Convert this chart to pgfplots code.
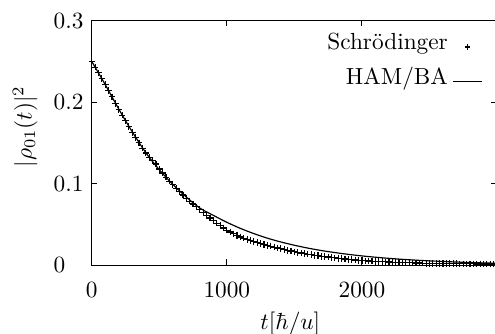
\documentclass[border=0pt]{standalone}
\usepackage{pgfplots}
\pgfplotsset{compat=1.18}
\pgfplotsset{
  markimg/.style={legend image code/.code={\path[draw=none,fill=none] (0pt,-1.8pt) (12.4pt,-1.8pt); \draw[mark repeat=2,mark phase=2,##1,mark size=1.1pt] plot coordinates {(0pt,-1.8pt) (6.2pt,-1.8pt) (12.4pt,-1.8pt)};}},
  lineimg/.style={legend image code/.code={\draw[##1] (0pt,-1.8pt) -- (12.4pt,-1.8pt);}},
}
\begin{document}
\begin{tikzpicture}
\begin{axis}[
  scale only axis,
  width=174pt, height=104.9pt,
  xmin=0, xmax=3000, ymin=0, ymax=0.3,
  xtick={0,1000,2000}, ytick={0,0.1,0.2,0.3},
  yticklabels={0,0.1,0.2,0.3},
  /pgf/number format/set thousands separator={},
  tick align=inside, major tick length=2.4pt,
  axis line style={line width=0.4pt},
  tick style={line width=0.4pt, black},
  yticklabel style={anchor=west, xshift=-19.9pt},
  xticklabel style={yshift=-4pt},
  xlabel={$t[\hbar/u]$},
  ylabel={$|\rho_{01}(t)|^2$},
  xlabel style={at={([yshift=-25pt]axis description cs:0.49,0)}, anchor=center},
  ylabel style={at={([xshift=-28.6pt]axis description cs:0,0.567)}, anchor=center},
  legend plot pos=right,
  legend cell align=right,
  legend style={at={(rel axis cs:1,1)}, anchor=north east, xshift=-3pt, yshift=-1pt,
    draw=none, fill=none, row sep=2pt},
]
\addplot[only marks, mark=+, mark size=1.4pt, mark options={line width=0.5pt, black}, markimg]
coordinates {
(0,0.2500) (25,0.2430) (50,0.2360) (75,0.2290) (100,0.2220) (125,0.2140) (150,0.2065) (175,0.1985)
(200,0.1910) (225,0.1840) (250,0.1770) (275,0.1700) (300,0.1630) (325,0.1565) (350,0.1500) (375,0.1435)
(400,0.1375) (425,0.1325) (450,0.1285) (475,0.1240) (500,0.1180) (525,0.1130) (550,0.1080) (575,0.1030)
(600,0.0985) (625,0.0940) (650,0.0900) (675,0.0860) (700,0.0820) (725,0.0785) (750,0.0750) (775,0.0715)
(800,0.0680) (825,0.0645) (850,0.0610) (875,0.0578) (900,0.0545) (925,0.0515) (950,0.0485) (975,0.0455)
(1000,0.0428) (1025,0.0405) (1050,0.0383) (1075,0.0363) (1100,0.0345) (1125,0.0330) (1150,0.0315) (1175,0.0300)
(1200,0.0287) (1225,0.0275) (1250,0.0263) (1275,0.0252) (1300,0.0241) (1325,0.0231) (1350,0.0220) (1375,0.0210)
(1400,0.0200) (1425,0.0190) (1450,0.0181) (1475,0.0172) (1500,0.0163) (1525,0.0156) (1550,0.0148) (1575,0.0140)
(1600,0.0133) (1625,0.0127) (1650,0.0120) (1675,0.0114) (1700,0.0108) (1725,0.0103) (1750,0.0098) (1775,0.0093)
(1800,0.0088) (1825,0.0083) (1850,0.0079) (1875,0.0074) (1900,0.0070) (1925,0.0066) (1950,0.0062) (1975,0.0058)
(2000,0.0055) (2025,0.0052) (2050,0.0050) (2075,0.0047) (2100,0.0045) (2125,0.0043) (2150,0.0041) (2175,0.0039)
(2200,0.0037) (2225,0.0036) (2250,0.0034) (2275,0.0033) (2300,0.0031) (2325,0.0030) (2350,0.0028) (2375,0.0027)
(2400,0.0025) (2425,0.0024) (2450,0.0023) (2475,0.0022) (2500,0.0021) (2525,0.0020) (2550,0.0019) (2575,0.0019)
(2600,0.0018) (2625,0.0017) (2650,0.0017) (2675,0.0016) (2700,0.0016) (2725,0.0015) (2750,0.0015) (2775,0.0014)
(2800,0.0014) (2825,0.0014) (2850,0.0013) (2875,0.0013) (2900,0.0012) (2925,0.0012) (2950,0.0012) (2975,0.0011)
(3000,0.0011)
};
\addlegendentry{Schr\"odinger}
\addplot[black, line width=0.5pt, smooth, mark=none, lineimg]
coordinates {
(0,0.250) (100,0.2215) (200,0.1915) (300,0.1635) (400,0.138) (500,0.1170) (600,0.0990)
(700,0.0835) (800,0.0700) (900,0.0610) (1000,0.0525) (1100,0.0450) (1200,0.0386) (1300,0.0330)
(1400,0.0283) (1500,0.0243) (1600,0.0208) (1700,0.0178) (1800,0.0153) (1900,0.0131) (2000,0.0112)
(2100,0.0096) (2200,0.0082) (2300,0.0070) (2400,0.0060) (2500,0.0051) (2600,0.0044) (2700,0.0037)
(2800,0.0031) (2900,0.0026) (3000,0.0022)
};
\addlegendentry{HAM/BA}
\end{axis}
\pgfresetboundingbox
\path ([xshift=-39.4pt,yshift=-29.6pt]current axis.south west) rectangle ([xshift=-0.86pt,yshift=8.9pt]current axis.north east);
\end{tikzpicture}
\end{document}
